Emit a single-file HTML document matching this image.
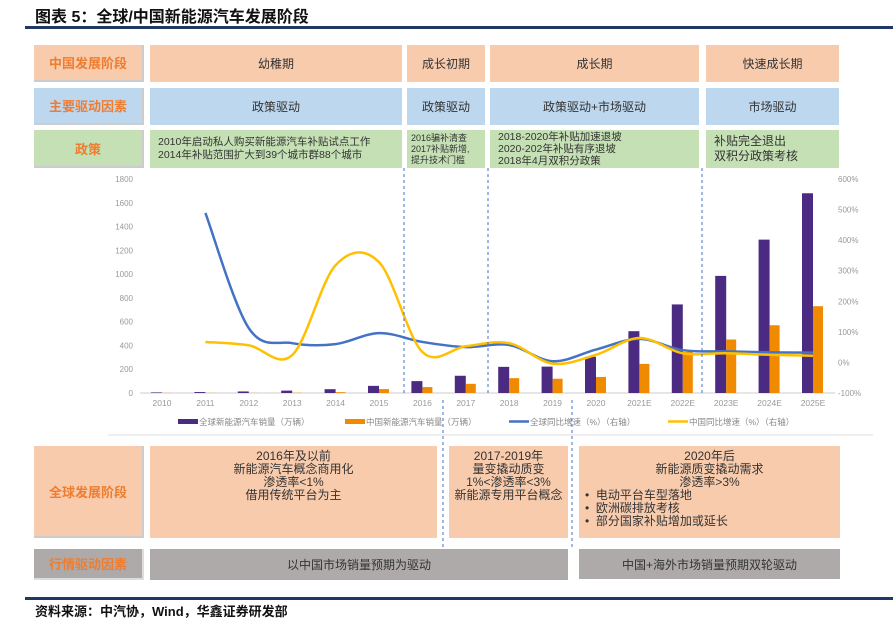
<!DOCTYPE html>
<html><head><meta charset="utf-8"><style>
body{margin:0;width:893px;height:631px;background:#fff;position:relative;overflow:hidden;font-family:"Liberation Sans","Noto Sans CJK SC",sans-serif;}
.c{position:absolute;display:flex;align-items:center;justify-content:center;text-align:center;font-size:12px;color:#333;box-sizing:border-box;}
.pk{background:#f8cbad}.bl{background:#bdd7ee}.gr{background:#c5e0b4}.gy{background:#aeaaaa}
.hd{color:#ed7d31;font-weight:bold;font-size:13px;border-right:2px solid #ccc;border-bottom:2px solid #ccc;}
.lt{justify-content:flex-start;text-align:left;padding-left:8px;line-height:13px;}
</style></head><body>
<div class="c" style="left:35px;top:4px;height:22px;font-size:16px;font-weight:bold;color:#111;justify-content:flex-start">图表 5：全球/中国新能源汽车发展阶段</div>
<div style="position:absolute;left:25px;top:26px;width:868px;height:3px;background:#1f3864"></div>

<div class="c pk hd" style="left:34px;top:45px;width:110px;height:37px">中国发展阶段</div>
<div class="c pk" style="left:150px;top:45px;width:252px;height:37px">幼稚期</div>
<div class="c pk" style="left:407px;top:45px;width:78px;height:37px">成长初期</div>
<div class="c pk" style="left:490px;top:45px;width:209px;height:37px">成长期</div>
<div class="c pk" style="left:706px;top:45px;width:133px;height:37px">快速成长期</div>

<div class="c bl hd" style="left:34px;top:88px;width:110px;height:37px">主要驱动因素</div>
<div class="c bl" style="left:150px;top:88px;width:252px;height:37px">政策驱动</div>
<div class="c bl" style="left:407px;top:88px;width:78px;height:37px">政策驱动</div>
<div class="c bl" style="left:490px;top:88px;width:209px;height:37px">政策驱动+市场驱动</div>
<div class="c bl" style="left:706px;top:88px;width:133px;height:37px">市场驱动</div>

<div class="c gr hd" style="left:34px;top:130px;width:110px;height:38px">政策</div>
<div class="c gr lt" style="left:150px;top:130px;width:252px;height:38px;font-size:10.5px">2010年启动私人购买新能源汽车补贴试点工作<br>2014年补贴范围扩大到39个城市群88个城市</div>
<div class="c gr lt" style="left:407px;top:130px;width:78px;height:38px;font-size:9px;padding-left:4px;line-height:11px">2016骗补清查<br>2017补贴新增,<br>提升技术门槛</div>
<div class="c gr lt" style="left:490px;top:130px;width:209px;height:38px;font-size:10.5px;line-height:12px">2018-2020年补贴加速退坡<br>2020-202年补贴有序退坡<br>2018年4月双积分政策</div>
<div class="c gr lt" style="left:706px;top:130px;width:133px;height:38px;font-size:12px;line-height:15px">补贴完全退出<br>双积分政策考核</div>

<svg id="chart" width="893" height="631" style="position:absolute;left:0;top:0" xmlns="http://www.w3.org/2000/svg">
<line x1="108" y1="435" x2="873" y2="435" stroke="#ddd" stroke-width="1"/>
<g id="g"></g>
</svg>

<div class="c pk hd" style="left:34px;top:446px;width:110px;height:92px">全球发展阶段</div>
<div class="c pk" style="left:150px;top:446px;width:287px;height:92px;align-items:flex-start;padding-top:4px;line-height:13px">2016年及以前<br>新能源汽车概念商用化<br>渗透率&lt;1%<br>借用传统平台为主</div>
<div class="c pk" style="left:449px;top:446px;width:119px;height:92px;align-items:flex-start;padding-top:4px;line-height:13px">2017-2019年<br>量变撬动质变<br>1%&lt;渗透率&lt;3%<br>新能源专用平台概念</div>
<div class="c pk" style="left:579px;top:446px;width:261px;height:92px;align-items:flex-start;padding-top:4px;line-height:13px;display:block">2020年后<br>新能源质变撬动需求<br>渗透率&gt;3%<div style="text-align:left;padding-left:6px">• &nbsp;电动平台车型落地<br>• &nbsp;欧洲碳排放考核<br>• &nbsp;部分国家补贴增加或延长</div></div>

<div class="c gy hd" style="left:34px;top:549px;width:110px;height:31px;border-color:#ddd">行情驱动因素</div>
<div class="c gy" style="left:150px;top:549px;width:418px;height:31px">以中国市场销量预期为驱动</div>
<div class="c gy" style="left:579px;top:549px;width:261px;height:30px">中国+海外市场销量预期双轮驱动</div>

<div style="position:absolute;left:25px;top:597px;width:868px;height:3px;background:#1f3864"></div>
<div class="c" style="left:35px;top:601px;height:18px;font-weight:bold;color:#111;font-size:13px;justify-content:flex-start">资料来源：中汽协，Wind，华鑫证券研发部</div>

<script>
const categories=["2010","2011","2012","2013","2014","2015","2016","2017","2018","2019","2020","2021E","2022E","2023E","2024E","2025E"];
const globalSales=[5,8,13,20,32,60,100,145,220,222,305,520,745,985,1290,1680];
const chinaSales=[1,1,1,2,7,33,50,77,125,120,135,245,345,450,570,730];
const globalGrowth=[null,489,112,63,60,96,67,50,57,4,42,77,40,36,33,32];
const chinaGrowth=[null,67,56,24,318,328,34,53,63,-4,25,80,30,30,25,22];
const leftTicks=[0,200,400,600,800,1000,1200,1400,1600,1800];
const rightTicks=[-100,0,100,200,300,400,500,600];
const NS="http://www.w3.org/2000/svg";
const g=document.getElementById('g');
const y0=393,yTop=179;
const xPos=i=>162+i*43.4;
const yL=v=>y0-(v/1800)*(y0-yTop);
const yR=v=>y0-((v+100)/700)*(y0-yTop);
function mk(t,a,txt){const e=document.createElementNS(NS,t);for(const k in a)e.setAttribute(k,a[k]);if(txt!=null)e.textContent=txt;g.appendChild(e);return e;}
leftTicks.forEach(v=>{const e=mk('text',{x:133,y:yL(v)+3,'text-anchor':'end','font-size':8,fill:'#999'},v);

});
rightTicks.forEach(v=>{const e=mk('text',{x:838,y:yR(v)+3,'font-size':8,fill:'#999'},v+'%');

});
const ax=mk('line',{x1:140,y1:y0,x2:835,y2:y0,stroke:'#ccc'});


categories.forEach((c,i)=>{
const t=mk('text',{x:xPos(i),y:y0+13,'text-anchor':'middle','font-size':8.5,fill:'#999'},c);


const b=mk('rect',{x:xPos(i)-11,y:yL(globalSales[i]),width:11,height:y0-yL(globalSales[i]),fill:'#4b2a82'});


const o=mk('rect',{x:xPos(i),y:yL(chinaSales[i]),width:10,height:y0-yL(chinaSales[i]),fill:'#f08a00'});


});
function smooth(vals,col,name){
const p=[];vals.forEach((v,i)=>{if(v!=null)p.push([xPos(i),yR(v)]);});
let d='M'+p[0][0]+','+p[0][1];
for(let i=0;i<p.length-1;i++){const a=p[Math.max(0,i-1)],b=p[i],c=p[i+1],e=p[Math.min(p.length-1,i+2)];
d+=' C'+(b[0]+(c[0]-a[0])/6)+','+(b[1]+(c[1]-a[1])/6)+' '+(c[0]-(e[0]-b[0])/6)+','+(c[1]-(e[1]-b[1])/6)+' '+c[0]+','+c[1];}
const l=mk('path',{d:d,fill:'none',stroke:col,'stroke-width':2.5});


}
smooth(globalGrowth,'#4472c4','line-global-growth');
smooth(chinaGrowth,'#ffc000','line-china-growth');
[[404,168,393],[488,168,393],[702,168,393],[443,400,550],[572,400,550]].forEach(v=>{
const l=mk('line',{x1:v[0],y1:v[1],x2:v[0],y2:v[2],stroke:'#4472c4','stroke-dasharray':'3,3','stroke-width':1});

});
const leg=[['全球新能源汽车销量（万辆）','#4b2a82',178,'bar'],['中国新能源汽车销量（万辆）','#f08a00',345,'bar'],['全球同比增速（%）（右轴）','#4472c4',509,'line'],['中国同比增速（%）（右轴）','#ffc000',668,'line']];
leg.forEach(e=>{
const m=e[3]=='bar'?mk('rect',{x:e[2],y:419,width:20,height:5,fill:e[1]}):mk('line',{x1:e[2],y1:421.5,x2:e[2]+20,y2:421.5,stroke:e[1],'stroke-width':2.5});


const t=mk('text',{x:e[2]+21,y:425,'font-size':8.5,fill:'#888'},e[0]);


});
</script>
</body></html>
